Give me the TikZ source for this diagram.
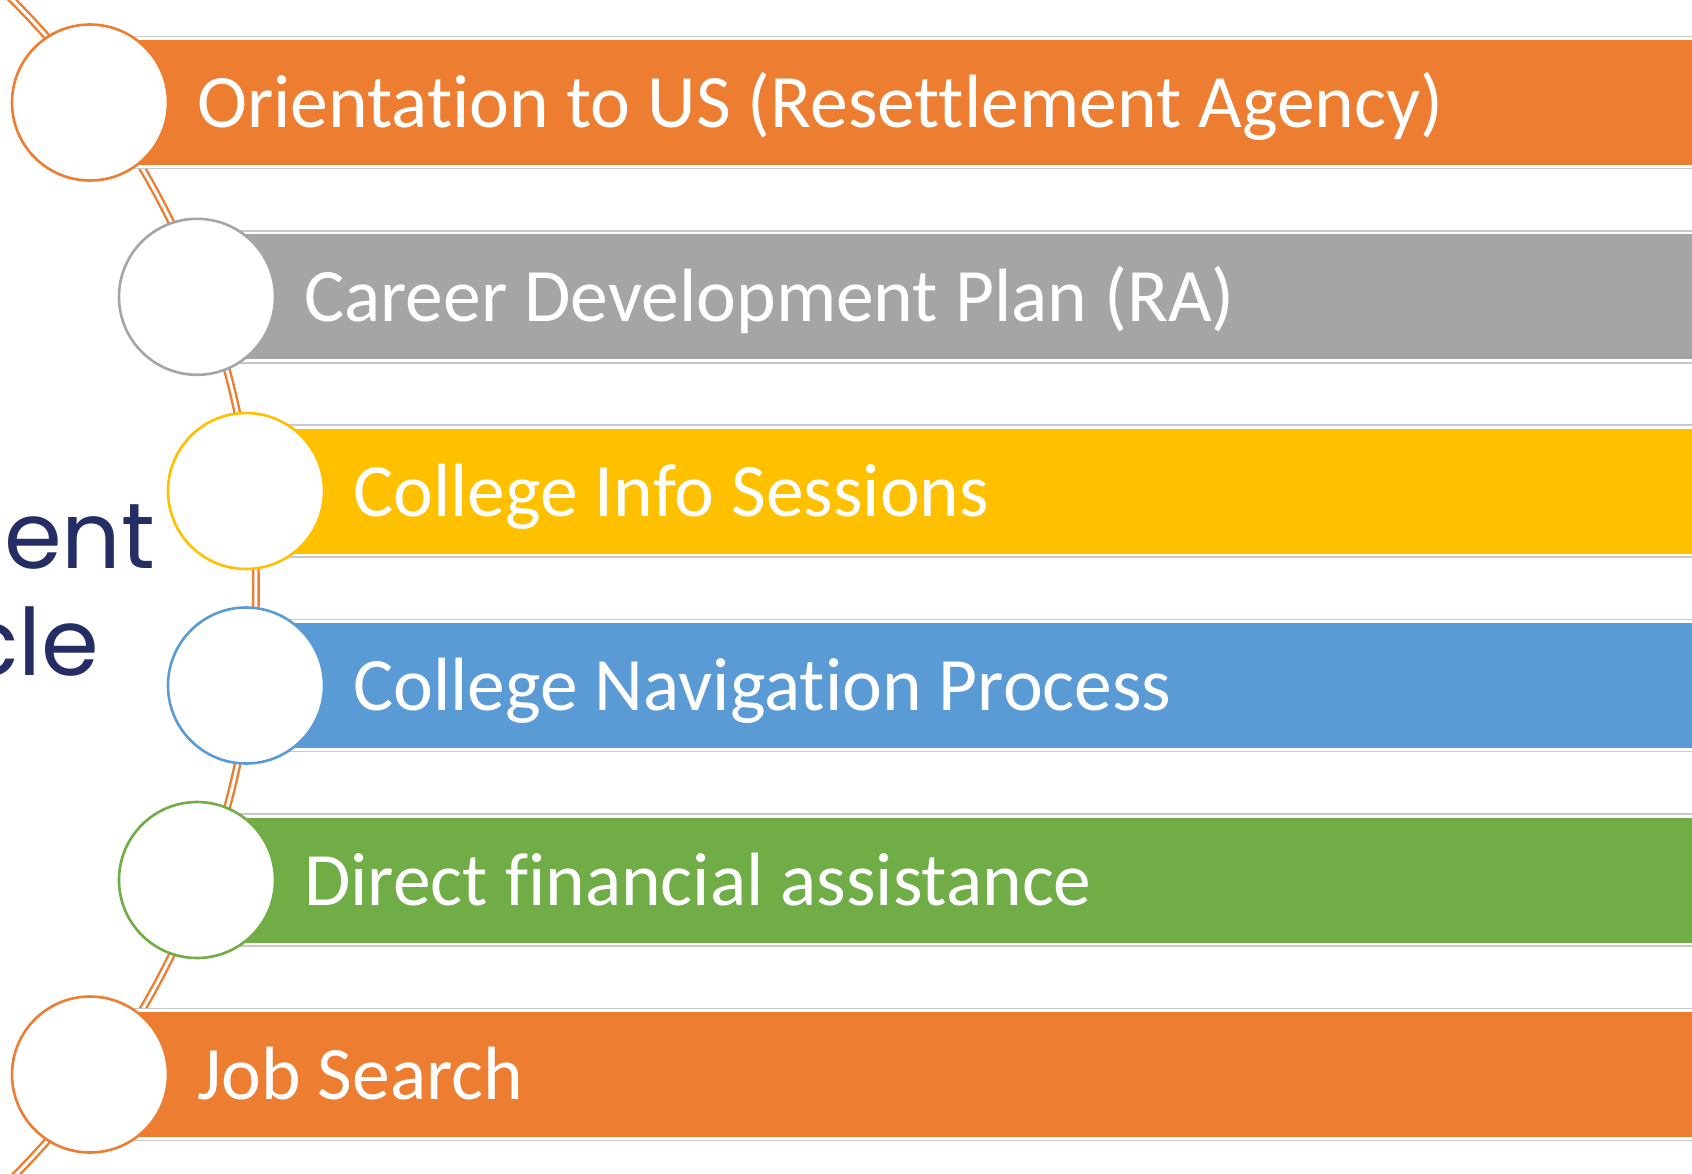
\documentclass[tikz,border=0pt]{standalone}
\usepackage{fontspec}
\setmainfont{Carlito}[Ligatures=NoCommon]
\newfontfamily\titlefont{Poppins}
\definecolor{orng}{HTML}{ED7D31}
\definecolor{gry}{HTML}{A5A5A5}
\definecolor{gld}{HTML}{FFC000}
\definecolor{blu}{HTML}{5B9BD5}
\definecolor{grn}{HTML}{70AD47}
\definecolor{navy}{RGB}{36,45,100}
\definecolor{barline}{HTML}{C8C8C8}
\tikzset{
  stepcircle/.style={circle, fill=white, line width=2.6pt, minimum size=156pt, inner sep=0pt},
  steptext/.style={anchor=base west, text=white, inner sep=0pt, font=\fontsize{75.5}{90}\selectfont},
  titletext/.style={anchor=base west, text=navy, inner sep=0pt, font=\titlefont\fontsize{93}{100}\selectfont},
}
\begin{document}
\begin{tikzpicture}[x=1pt,y=-1pt]
\useasboundingbox (0,0) rectangle (1692,1173);
\clip (0,0) rectangle (1692,1173);
\fill[white] (0,0) rectangle (1692,1173);
% connecting arc
\coordinate (arcc) at (-578,589);
\draw[orng, line width=2.4pt, double=white, double distance=3pt] (arcc) circle[radius=834];
% title remnants
\node[titletext] (w1) at (4,568) {ent};
\node[titletext] (w2) at (-38,675) {cle};
% steps
\foreach \cy/\cx/\col/\txt [count=\i] in {
  102.5/90/orng/{Orientation to US (Resettlement Agency)},
  296.8/197/gry/{Career Development Plan (RA)},
  491/246/gld/{College Info Sessions},
  685.5/246/blu/{College Navigation Process},
  880/197/grn/{Direct financial assistance},
  1074.5/90/orng/{Job Search}}{
  \path[draw=barline, line width=1.4pt, fill=white] ({\cx},{\cy-66}) rectangle (1700,{\cy+66});
  \path[fill=\col] ({\cx},{\cy-62.5}) rectangle (1700,{\cy+62.5});
  \coordinate (b\i) at ({\cx},{\cy});
  \node[stepcircle, draw=\col] (c\i) at (b\i) {};
  \node[steptext] (t\i) at ({\cx+107},{\cy+25}) {\txt};
}
\end{tikzpicture}
\end{document}
